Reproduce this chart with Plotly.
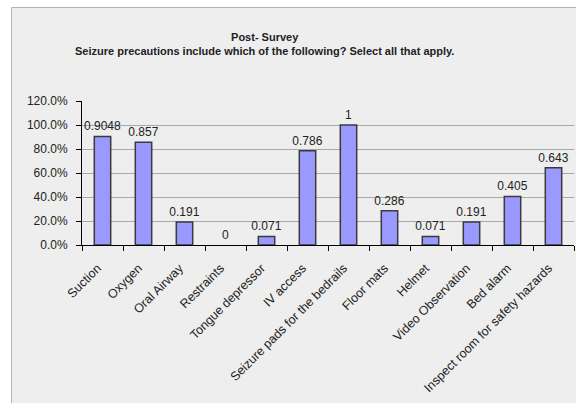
import plotly.graph_objects as go

categories = [
    "Suction", "Oxygen", "Oral Airway", "Restraints", "Tongue depressor",
    "IV access", "Seizure pads for the bedrails", "Floor mats", "Helmet",
    "Video Observation", "Bed alarm", "Inspect room for safety hazards",
]
values = [0.9048, 0.857, 0.191, 0, 0.071, 0.786, 1, 0.286, 0.071, 0.191, 0.405, 0.643]
value_labels = ["0.9048", "0.857", "0.191", "0", "0.071", "0.786", "1",
                "0.286", "0.071", "0.191", "0.405", "0.643"]
y_ticks = [0, 0.2, 0.4, 0.6, 0.8, 1.0, 1.2]

W, H = 576, 403
ML, MR, MT, MB = 82, 2, 101, 158
pw = W - ML - MR
ph = H - MT - MB

def px_x(px):
    return (px - ML) / pw

def px_y(py):
    return (H - MB - py) / ph

FONT = "Liberation Sans, Arial, sans-serif"
TXT = "#222222"

# no outline on empty bars so a zero value draws nothing
outline_w = [1.5 if v > 0 else 0 for v in values]

fig = go.Figure(
    go.Bar(
        x=categories,
        y=values,
        text=value_labels,
        textposition="outside",
        constraintext="none",
        textangle=0,
        textfont=dict(family=FONT, size=12, color=TXT),
        cliponaxis=False,
        marker=dict(color="#9999ff", line=dict(color="#3a3a3a", width=outline_w)),
        width=0.4,
    )
)

fig.update_layout(
    width=W,
    height=H,
    margin=dict(l=ML, r=MR, t=MT, b=MB),
    paper_bgcolor="white",
    plot_bgcolor="rgba(0,0,0,0)",
    showlegend=False,
    font=dict(family=FONT, size=12, color=TXT),
    shapes=[
        dict(
            type="rect", xref="paper", yref="paper", layer="below",
            x0=px_x(11.5), x1=px_x(590), y0=px_y(420), y1=px_y(7.5),
            fillcolor="#eeeeee", line=dict(color="#b4b4b4", width=1),
        )
    ],
    annotations=[
        dict(
            text="<b>Post- Survey</b><br><b>Seizure precautions include which of the following? Select all that apply.</b>",
            xref="paper", yref="paper", x=px_x(264), y=px_y(44),
            xanchor="center", yanchor="middle", showarrow=False,
            font=dict(family=FONT, size=11, color=TXT),
        )
    ],
)

fig.update_xaxes(
    showline=True, linecolor="black", linewidth=1,
    ticks="outside", tickson="boundaries", ticklen=5, tickcolor="black",
    tickangle=-45, ticklabelstandoff=10, ticklabelshift=-5,
    tickfont=dict(family=FONT, size=12.5, color=TXT),
    showgrid=False,
)
fig.update_yaxes(
    range=[0, 1.2], tickvals=y_ticks, tickformat=".1%",
    showline=True, linecolor="black", linewidth=1,
    ticks="outside", ticklen=5, tickcolor="black", ticklabelstandoff=6,
    showgrid=True, gridcolor="#a8a8a8", gridwidth=1,
    zeroline=False,
    tickfont=dict(family=FONT, size=12, color=TXT),
)

fig.write_html("out.html")
